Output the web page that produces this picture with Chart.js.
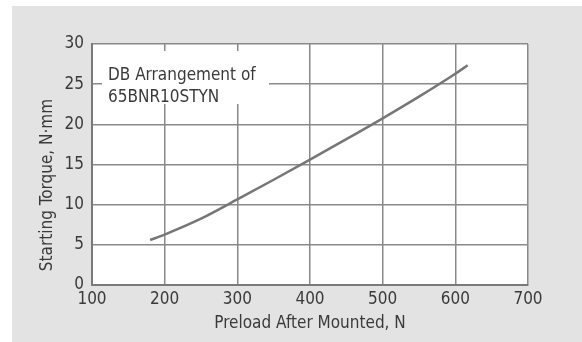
<!DOCTYPE html>
<html>
<head>
<meta charset="utf-8">
<script src="https://cdn.jsdelivr.net/npm/chart.js@4"></script>
<style>
  html, body { margin: 0; padding: 0; background: #fff; }
  #chart { display: block; }
</style>
</head>
<body>
<canvas id="chart" width="582" height="342"></canvas>
<script>
// Starting torque against preload (DB arrangement of 65BNR10STYN)
const preload = [180, 200, 250, 300, 350, 400, 450, 500, 550, 600, 617];
const torque = [5.6, 6.28, 8.25, 10.65, 13.1, 15.6, 18.15, 20.75, 23.45, 26.3, 27.35];

const xTicks = [100, 200, 300, 400, 500, 600, 700];
const yTicks = [0, 5, 10, 15, 20, 25, 30];

const noteLines = ["DB Arrangement of", "65BNR10STYN"];
const xTitle = "Preload After Mounted, N";
const yTitle = "Starting Torque, N\u00b7mm";

const FONT = "'DejaVu Sans Condensed', 'DejaVu Sans', sans-serif";
const TEXT = "#3a3a3a";

// panel background + white plot area
const backdrop = {
    id: "backdrop",
    beforeDraw: (chart) => {
        const { ctx, chartArea: a } = chart;
        ctx.save();
        ctx.fillStyle = "#ffffff";
        ctx.fillRect(0, 0, chart.width, chart.height);
        ctx.fillStyle = "#e3e3e3";
        ctx.fillRect(12, 6, chart.width - 12, chart.height - 6);
        ctx.fillStyle = "#ffffff";
        ctx.fillRect(a.left, a.top, a.right - a.left, a.bottom - a.top);
        ctx.restore();
    },
};

// note box over the grid, plus the rotated y title
const notes = {
    id: "notes",
    beforeDatasetsDraw: (chart) => {
        const { ctx } = chart;
        ctx.save();
        ctx.fillStyle = "#ffffff";
        ctx.fillRect(102, 51, 167, 53);
        ctx.fillStyle = TEXT;
        ctx.font = `17px ${FONT}`;
        ctx.textBaseline = "alphabetic";
        ctx.textAlign = "left";
        noteLines.forEach((line, i) => ctx.fillText(line, 108, 80 + i * 21.5));

        ctx.translate(48, 185);
        ctx.rotate(-Math.PI / 2);
        ctx.textAlign = "center";
        ctx.textBaseline = "middle";
        ctx.fillText(yTitle, 0, 0);
        ctx.restore();
    },
};

const ctx = document.getElementById("chart").getContext("2d");
new Chart(ctx, {
    type: "line",
    data: {
        datasets: [{
            data: preload.map((x, i) => ({ x: x, y: torque[i] })),
            borderColor: "#767676",
            borderWidth: 2.5,
            pointRadius: 0,
            cubicInterpolationMode: "monotone",
            fill: false,
        }],
    },
    options: {
        responsive: false,
        animation: false,
        layout: { padding: { left: 12, top: 44, right: 54, bottom: 0 } },
        plugins: {
            legend: { display: false },
            tooltip: { enabled: false },
        },
        scales: {
            x: {
                type: "linear",
                min: 100,
                max: 700,
                afterBuildTicks: (scale) => { scale.ticks = xTicks.map(v => ({ value: v })); },
                afterFit: (scale) => { scale.height = 57; },
                grid: { color: "#8a8a8a", lineWidth: 1.5, drawTicks: false },
                border: { color: "#7a7a7a", width: 2 },
                ticks: { color: TEXT, padding: 4, font: { family: FONT, size: 17 } },
                title: {
                    display: true,
                    text: xTitle,
                    color: TEXT,
                    font: { family: FONT, size: 17 },
                    padding: { top: 0, bottom: 8 },
                },
            },
            y: {
                min: 0,
                max: 30,
                afterBuildTicks: (scale) => { scale.ticks = yTicks.map(v => ({ value: v })); },
                afterFit: (scale) => { scale.width = 80; },
                grid: { color: "#8a8a8a", lineWidth: 1.5, drawTicks: false },
                border: { color: "#7a7a7a", width: 2 },
                ticks: { color: TEXT, padding: 8, font: { family: FONT, size: 17 } },
            },
        },
    },
    plugins: [backdrop, notes],
});
</script>
</body>
</html>
